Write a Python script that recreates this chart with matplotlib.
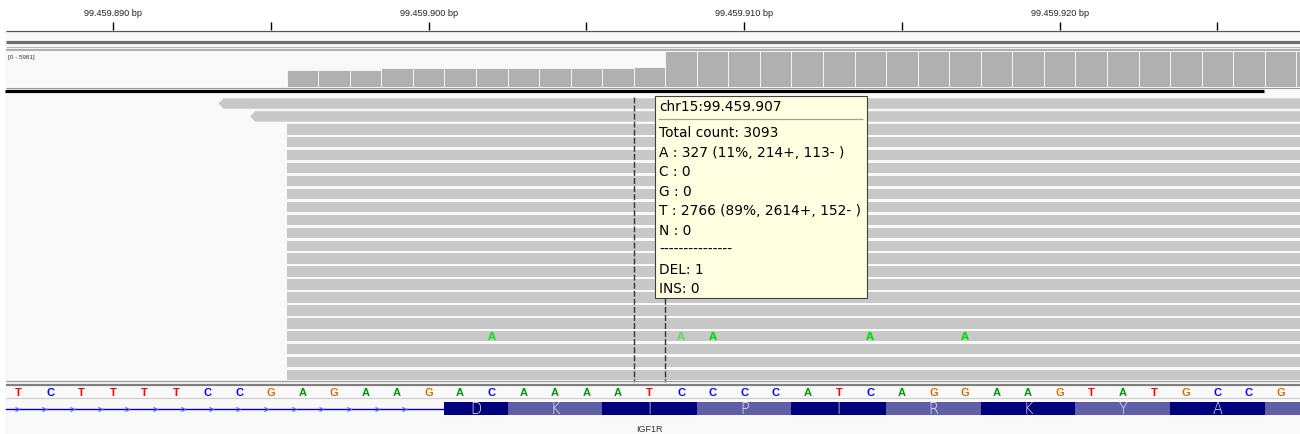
import matplotlib.pyplot as plt
from matplotlib.patches import Rectangle, Polygon
from matplotlib.path import Path
import numpy as np

# genomic position of the first base shown on screen
pos0 = 99459887
sequence = "TCTTTTCCGAGAAGACAAAATCCCCATCAGGAAGTATGCCG"

ruler_major = [99459890, 99459900, 99459910, 99459920]
ruler_minor = [99459895, 99459905, 99459915, 99459925]

# coverage track (bases 9..41 of the view)
cov_max = 5981
cov_offset = list(range(9, 42))
cov_values = [2700, 2700, 2700,
              2970, 2970, 2970, 2970, 2970, 2970, 2970,
              3080, 3093,
              5620, 5620, 5620, 5620, 5620, 5620, 5620, 5620, 5620, 5620,
              5620, 5620, 5620, 5620, 5620, 5620, 5620, 5620, 5620, 5620, 5620]

# reads: first base of each row (all run past the right edge)
read_start = [7, 8, 9, 9, 9, 9, 9, 9, 9, 9, 9, 9, 9, 9, 9, 9, 9, 9, 9, 9, 9, 9]
read_reverse = [True, True] + [False] * 20
read_end = 45

# mismatches (row, base offset, base, quality alpha)
mm_row = [18, 18, 18, 18, 18]
mm_offset = [15, 21, 22, 27, 30]
mm_base = ["A", "A", "A", "A", "A"]
mm_alpha = [0.85, 0.45, 1.0, 1.0, 1.0]

# IGF1R exon translation
aa_letters = ["D", "K", "I", "P", "I", "R", "K", "Y", "A", ""]
aa_start = [14, 16, 19, 22, 25, 28, 31, 34, 37, 40]
aa_end = [16, 19, 22, 25, 28, 31, 34, 37, 40, 43]
gene_name = "IGF1R"
gene_label_offset = 20

# popup text
center_offset = 20
tip_locus = "chr15:99.459.907"
total_count = 3093
tip_bases = ["A", "C", "G", "T", "N"]
tip_counts = [327, 0, 0, 2766, 0]
tip_pct = [11, 0, 0, 89, 0]
tip_plus = [214, 0, 0, 2614, 0]
tip_minus = [113, 0, 0, 152, 0]
del_count = 1
ins_count = 0

base_colors = {"A": "#009600", "C": "#0000ff", "G": "#d17105", "T": "#ff0000"}

W, H = 1300, 434
bp_px = 31.55
first_px = 18.5


def px2pos(x):
    return pos0 + (x - first_px) / bp_px


fig = plt.figure(figsize=(W / 100, H / 100), dpi=100)
fig.patch.set_facecolor("white")

ax = fig.add_axes([0, 0, 1, 1])
ax.set_xlim(px2pos(0), px2pos(W))
ax.set_ylim(H, 0)
ax.axis("off")
ax.axhspan(31, H, xmin=5 / W, xmax=1, color="#f9f9f9", zorder=0, lw=0)

# ruler
ax.vlines(ruler_major + ruler_minor, 21.7, 29.5, color="black", lw=1)
for p in ruler_major:
    ax.text(p, 14, f"{p:,}".replace(",", ".") + " bp", ha="center", va="center",
            fontsize=6.6, family="Liberation Sans", color="#222222")

# reads
row_top, row_pitch, row_h = 98.3, 12.93, 10.4
tip = 0.16
for r, (s, rev) in enumerate(zip(read_start, read_reverse)):
    y0 = row_top + r * row_pitch
    x0 = pos0 + s - 0.5
    x1 = pos0 + read_end
    if rev:
        pts = [(x0, y0), (x1, y0), (x1, y0 + row_h), (x0, y0 + row_h), (x0 - tip, y0 + row_h / 2)]
    else:
        pts = [(x0, y0), (x1, y0), (x1, y0 + row_h), (x0, y0 + row_h)]
    ax.add_patch(Polygon(pts, closed=True, facecolor="#c8c8c8", edgecolor="none", zorder=2))

for r, o, b, a in zip(mm_row, mm_offset, mm_base, mm_alpha):
    ax.text(pos0 + o, row_top + r * row_pitch + row_h / 2 + 0.5, b, ha="center", va="center",
            fontsize=7.5, fontweight="bold", color="#00dd00", alpha=a, zorder=3)

# center line guides
read_bottom = row_top + (len(read_start) - 1) * row_pitch + row_h
for e in (center_offset - 0.5, center_offset + 0.5):
    ax.plot([pos0 + e, pos0 + e], [97, read_bottom + 1.5], color="#333333", lw=1,
            dashes=(4.3, 1.5), zorder=4)

# reference sequence
for i, b in enumerate(sequence):
    ax.text(pos0 + i, 393.5, b, ha="center", va="center", fontsize=8, fontweight="bold",
            color=base_colors[b], family="Liberation Sans", zorder=3)

# gene track: intron line with chevrons, then translated exon
exon_left = pos0 + aa_start[0] - 0.5
ax.plot([px2pos(6), exon_left], [409.3, 409.3], color="#0000c0", lw=1, zorder=2)
chevron = Path([(-1, 1), (1, 0), (-1, -1)], [Path.MOVETO, Path.LINETO, Path.LINETO])
arrow_x = np.arange(px2pos(16.7), exon_left - 0.5, 27.7 / bp_px)
ax.plot(arrow_x, np.full(len(arrow_x), 409.3), ls="none", marker=chevron, ms=3,
        mec="#5a5aff", mfc="none", mew=0.8, zorder=3)

for k, (a, s, e) in enumerate(zip(aa_letters, aa_start, aa_end)):
    fc = "#00007a" if k % 2 == 0 else "#5f5fa8"
    ax.add_patch(Rectangle((pos0 + s - 0.5, 402.3), e - s, 12.8, facecolor=fc,
                           edgecolor="none", zorder=2))
    if a:
        ax.text(pos0 + (s + e - 1) / 2, 409, a, ha="center", va="center", fontsize=10.5,
                fontweight="light", color="#ececf4", zorder=3)

ax.text(pos0 + gene_label_offset, 429.3, gene_name, ha="center", va="center", fontsize=6.5,
        family="Liberation Sans", color="#333333")

# coverage bars
cov_ax = fig.add_axes([0, 1 - 87.3 / H, 1, (87.3 - 49.0) / H])
cov_ax.set_xlim(ax.get_xlim())
cov_ax.set_ylim(0, cov_max)
cov_ax.axis("off")
cov_ax.patch.set_alpha(0)
cov_ax.bar([pos0 + o for o in cov_offset], cov_values, width=1.0,
           color="#b0b0b0", edgecolor="#f4f4f4", lw=0.7)

# overlay in screen pixels: separators and popup
top = fig.add_axes([0, 0, 1, 1])
top.set_xlim(0, W)
top.set_ylim(H, 0)
top.axis("off")
top.patch.set_alpha(0)

top.hlines(31, 6, W, color="#555555", lw=0.9)
top.hlines(41.7, 6, W, color="#6e6e6e", lw=2.3)
top.hlines(46.7, 6, W, color="#b8b8b8", lw=0.9)
top.hlines(50.3, 6, W, color="#9a9a9a", lw=1.1)
top.text(8, 58, f"[0 - {cov_max}]", fontsize=4.5, va="center", ha="left",
         family="Liberation Sans", color="#333333")
top.hlines(87.8, 6, W, color="#9a9a9a", lw=0.8)
top.hlines(90.5, 5, 1264, color="black", lw=2.3)
top.hlines(381, 6, W, color="#9c9c9c", lw=0.9)
top.hlines(384.5, 6, W, color="#808080", lw=1.6)
top.hlines(398.3, 6, W, color="#d0d0d0", lw=0.9)

top.add_patch(Rectangle((655, 95.5), 211.5, 202.8, facecolor="#ffffe1", edgecolor="#404040",
                        lw=0.8, zorder=5))
top.hlines(119.3, 658, 863, color="#a0a0a0", lw=0.9, zorder=6)
tip_lines = [f"Total count: {total_count}"]
for b, c, pc, pl, mi in zip(tip_bases, tip_counts, tip_pct, tip_plus, tip_minus):
    if c:
        tip_lines.append(f"{b} : {c} ({pc}%, {pl}+, {mi}- )")
    else:
        tip_lines.append(f"{b} : {c}")
tip_lines += ["---------------", f"DEL: {del_count}", f"INS: {ins_count}"]

tip_font = dict(fontsize=9.9, family="DejaVu Sans", color="black", ha="left", va="center",
                zorder=6)
top.text(659, 106.7, tip_locus, **tip_font)
for k, line in enumerate(tip_lines):
    top.text(659, 133.3 + 19.5 * k, line, **tip_font)

fig.savefig("out.png", dpi=100)
